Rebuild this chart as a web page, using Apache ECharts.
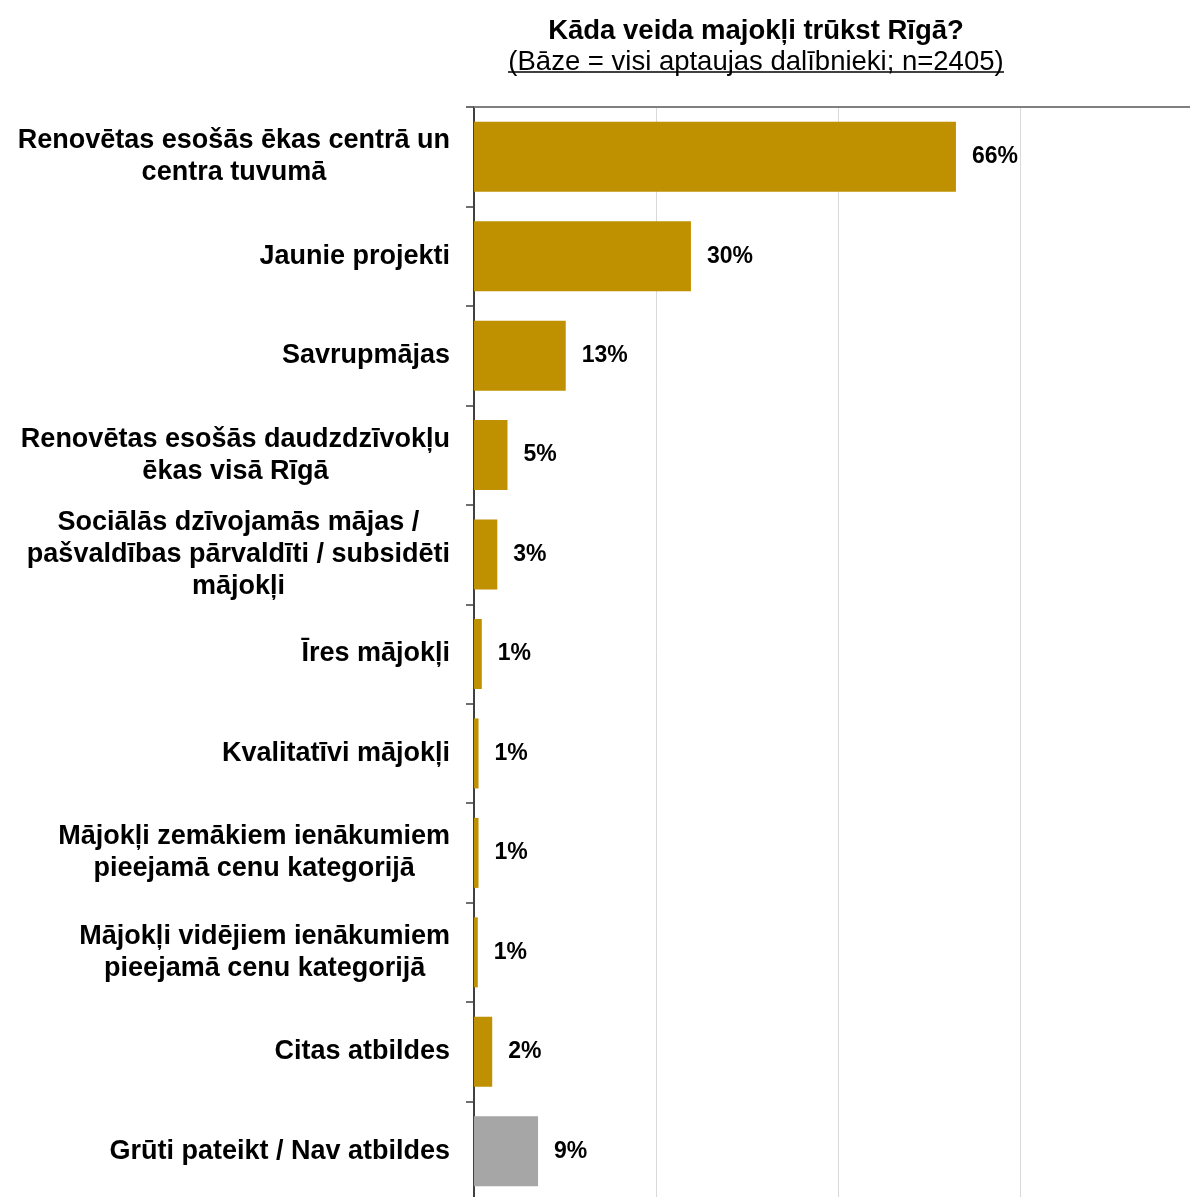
<!DOCTYPE html>
<html>
<head>
<meta charset="utf-8">
<script src="https://cdn.jsdelivr.net/npm/echarts@6/dist/echarts.min.js"></script>
<style>
html,body{margin:0;padding:0;background:#fff;}
#chart{width:1190px;height:1197px;}
</style>
</head>
<body>
<div id="chart"></div>
<script>
const categories = [
  "Renovētas esošās ēkas centrā un\ncentra tuvumā",
  "Jaunie projekti",
  "Savrupmājas",
  "Renovētas esošās daudzdzīvokļu\nēkas visā Rīgā",
  "Sociālās dzīvojamās mājas /\npašvaldības pārvaldīti / subsidēti\nmājokļi",
  "Īres mājokļi",
  "Kvalitatīvi mājokļi",
  "Mājokļi zemākiem ienākumiem\npieejamā cenu kategorijā",
  "Mājokļi vidējiem ienākumiem\npieejamā cenu kategorijā",
  "Citas atbildes",
  "Grūti pateikt / Nav atbildes"
];
const values = [66.2, 29.8, 12.6, 4.6, 3.2, 1.07, 0.62, 0.62, 0.52, 2.5, 8.8];
const valueLabels = ["66%", "30%", "13%", "5%", "3%", "1%", "1%", "1%", "1%", "2%", "9%"];
const greyIndex = [10];
const xTicks = [0, 25, 50, 75, 100];

const GOLD = "#BF9000";
const GREY = "#A6A6A6";

const chart = echarts.init(document.getElementById("chart"), null, {renderer: "canvas"});
const FONT = "'Liberation Sans', Arial, sans-serif";

chart.setOption({
  animation: false,
  backgroundColor: "#ffffff",
  title: {
    text: "Kāda veida majokļi trūkst Rīgā?",
    subtext: "(Bāze = visi aptaujas dalībnieki; n=2405)",
    left: 751,
    textAlign: "center",
    top: 12,
    itemGap: 3,
    textStyle: {fontFamily: FONT, fontSize: 27.5, fontWeight: "bold", color: "#000"},
    subtextStyle: {fontFamily: FONT, fontSize: 27.5, fontWeight: "normal", color: "#000"}
  },
  graphic: [{
    type: "line",
    shape: {x1: 508, y1: 72, x2: 1004, y2: 72},
    style: {stroke: "#000", lineWidth: 1.5}
  }],
  grid: {left: 474, top: 107, width: 728, height: 1094, containLabel: false, outerBoundsMode: "none"},
  xAxis: {
    type: "value",
    position: "top",
    min: xTicks[0],
    max: xTicks[xTicks.length - 1],
    interval: 25,
    axisLine: {show: true, lineStyle: {color: "#808080", width: 2}},
    axisTick: {show: false},
    axisLabel: {show: false},
    splitLine: {show: true, lineStyle: {color: "#D9D9D9", width: 1}}
  },
  yAxis: {
    type: "category",
    inverse: true,
    data: categories,
    axisLine: {show: true, lineStyle: {color: "#404040", width: 2}},
    axisTick: {show: true, length: 8, lineStyle: {color: "#404040", width: 1.5}},
    axisLabel: {
      margin: 24,
      fontFamily: FONT,
      fontSize: 27,
      fontWeight: "bold",
      color: "#000",
      lineHeight: 32,
      formatter: function (v) {
        return v.split("\n").map(function (l) { return "{c|" + l + "}"; }).join("\n");
      },
      rich: {
        c: {align: "center", fontFamily: FONT, fontSize: 27, fontWeight: "bold", color: "#000", lineHeight: 32}
      }
    }
  },
  series: [{
    type: "bar",
    barWidth: 70,
    data: values.map(function (v, i) {
      return {value: v, itemStyle: {color: greyIndex.indexOf(i) >= 0 ? GREY : GOLD}};
    }),
    label: {
      show: true,
      position: "right",
      distance: 16,
      fontFamily: FONT,
      fontSize: 23,
      fontWeight: "bold",
      color: "#000",
      formatter: function (p) { return valueLabels[p.dataIndex]; }
    }
  }]
});
</script>
</body>
</html>
